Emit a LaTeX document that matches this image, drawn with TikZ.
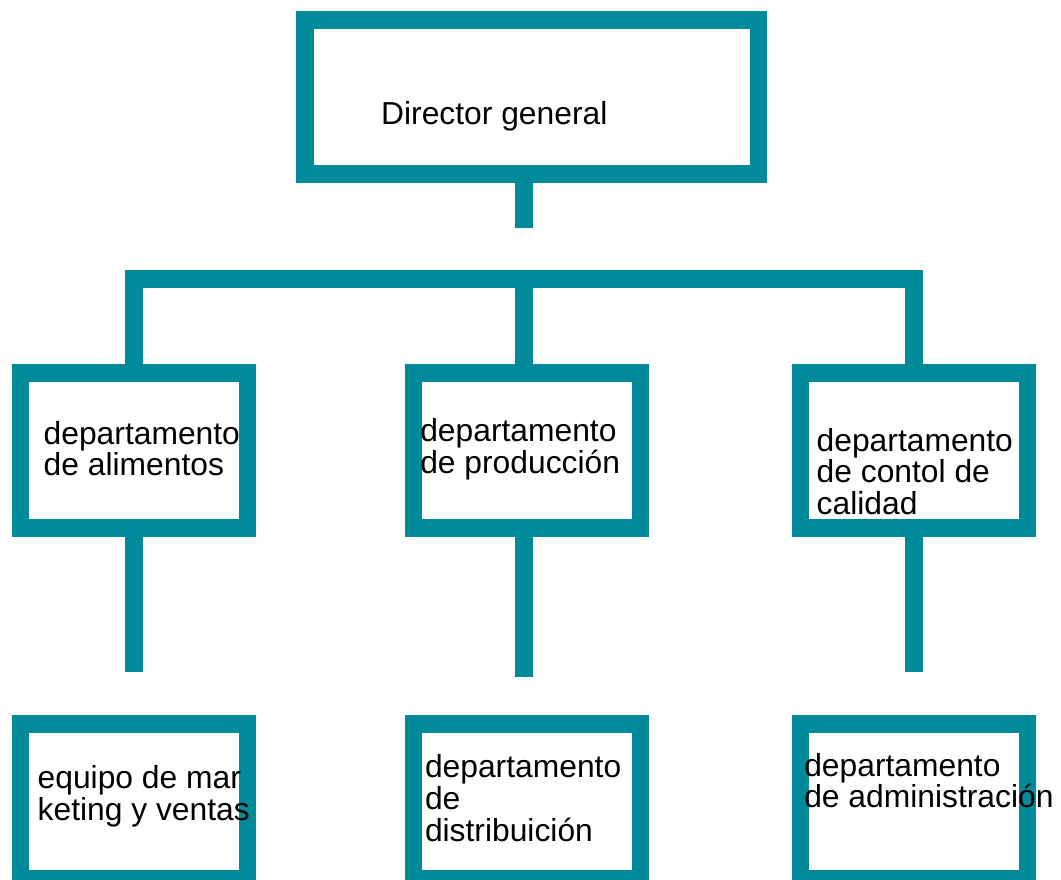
\documentclass[tikz,border=0pt]{standalone}
\usepackage{fontspec}
\setmainfont{Liberation Sans}
\definecolor{tealc}{RGB}{0,138,154}
\tikzset{
  orgbox/.style={draw=tealc, line width=17.5pt, rectangle, inner sep=0pt, outer sep=0pt, fill=white},
  conn/.style={draw=tealc, line width=17.5pt, line cap=butt, line join=miter},
  lbl/.style={anchor=base west, inner sep=0pt, outer sep=0pt, font=\fontsize{31.8}{31.8}\selectfont, text=black}
}
\begin{document}
\begin{tikzpicture}[x=1pt,y=-1pt]
\useasboundingbox (0,0) rectangle (1061,879);
\clip (0,0) rectangle (1061,879);
% boxes
\node[orgbox, minimum width=453.5pt, minimum height=154pt] (top) at (531.5,97) {};
\node[orgbox, minimum width=226.7pt, minimum height=155pt] (a1) at (133.9,450.5) {};
\node[orgbox, minimum width=227pt, minimum height=155pt] (a2) at (527.2,450.5) {};
\node[orgbox, minimum width=227pt, minimum height=155pt] (a3) at (914,450.5) {};
\node[orgbox, minimum width=226.7pt, minimum height=155pt] (b1) at (133.9,801.4) {};
\node[orgbox, minimum width=227pt, minimum height=155pt] (b2) at (527.2,801.4) {};
\node[orgbox, minimum width=227pt, minimum height=155pt] (b3) at (914,801.4) {};
% connector coordinates
\coordinate (s0) at (523.8,227.7);
\coordinate (c1) at (133.9,278.8);
\coordinate (c2) at (523.9,278.8);
\coordinate (c3) at (914,278.8);
\coordinate (d1) at (133.9,671.7);
\coordinate (d2) at (523.9,677.3);
\coordinate (d3) at (914,671.7);
% connectors
\draw[conn] (top.south -| s0) -- (s0);
\draw[conn] (a1.north -| c1) -- (c1) -- (c3) -- (a3.north -| c3);
\draw[conn] (c2) -- (a2.north -| c2);
\draw[conn] (a1.south -| d1) -- (d1);
\draw[conn] (a2.south -| d2) -- (d2);
\draw[conn] (a3.south -| d3) -- (d3);
% texts
\node[lbl] (t0) at (381.2,124.3) {Director general};
\node[lbl] (t1a) at (43.7,444.3) {departamento};
\node[lbl] (t1b) at (43.7,475.3) {de alimentos};
\node[lbl] (t2a) at (420.3,441.5) {departamento};
\node[lbl] (t2b) at (420.3,473.3) {de producción};
\node[lbl] (t3a) at (816.7,451.7) {departamento};
\node[lbl] (t3b) at (816.7,482.8) {de contol de};
\node[lbl] (t3c) at (816.7,514.5) {calidad};
\node[lbl] (u1a) at (37.7,788.3) {equipo de mar};
\node[lbl] (u1b) at (37.7,820) {keting y ventas};
\node[lbl] (u2a) at (425,777.5) {departamento};
\node[lbl] (u2b) at (425,809.5) {de};
\node[lbl] (u2c) at (425,841.5) {distribuición};
\node[lbl] (u3a) at (804.3,776.3) {departamento};
\node[lbl] (u3b) at (804.3,807.5) {de administración};
\end{tikzpicture}
\end{document}
